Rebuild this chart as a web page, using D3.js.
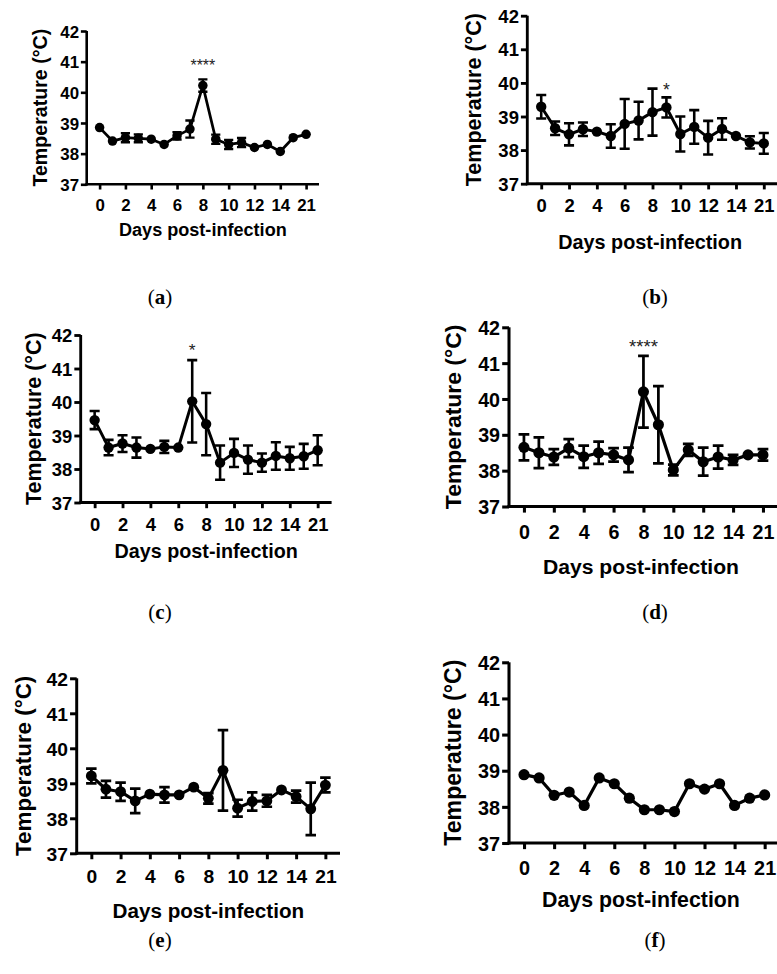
<!DOCTYPE html>
<html><head><meta charset="utf-8">
<script src="https://cdn.jsdelivr.net/npm/d3@7"></script>
<style>body{margin:0;background:#fff}svg{display:block}</style>
</head><body>
<svg id="chart" width="777" height="974"></svg>
<script>
// ---- data ----
const days = ["0","1","2","3","4","5","6","7","8","9","10","11","12","13","14","15","21"];
const tickDays = ["0","2","4","6","8","10","12","14","21"];
const yTicks = [37,38,39,40,41,42];
const yTitle = "Temperature (°C)";
const xTitle = "Days post-infection";

const meanA = [38.85,38.41,38.52,38.50,38.47,38.30,38.58,38.80,40.22,38.47,38.30,38.36,38.20,38.30,38.07,38.52,38.63];
const sdA   = [0,0,0.15,0.13,0,0,0.12,0.28,0.20,0.15,0.15,0.15,0,0,0,0,0];
const meanB = [39.29,38.65,38.47,38.62,38.55,38.42,38.78,38.88,39.13,39.27,38.48,38.69,38.37,38.63,38.42,38.23,38.20];
const sdB   = [0.35,0.20,0.33,0.20,0,0.35,0.74,0.56,0.70,0.30,0.52,0.50,0.50,0.32,0,0.18,0.31];
const meanC = [39.46,38.64,38.76,38.64,38.60,38.66,38.64,40.02,39.34,38.19,38.48,38.28,38.19,38.39,38.32,38.38,38.56];
const sdC   = [0.27,0.23,0.25,0.30,0,0.18,0,1.23,0.93,0.51,0.42,0.42,0.27,0.41,0.34,0.37,0.45];
const meanD = [38.65,38.50,38.38,38.63,38.39,38.50,38.44,38.30,40.20,39.28,38.02,38.58,38.25,38.38,38.30,38.44,38.44];
const sdD   = [0.36,0.43,0.22,0.25,0.31,0.31,0.19,0.34,1.00,1.08,0.15,0.17,0.39,0.32,0.14,0,0.16];
const meanE = [39.21,38.83,38.76,38.50,38.69,38.67,38.67,38.89,38.57,39.37,38.29,38.48,38.50,38.81,38.62,38.27,38.95];
const sdE   = [0.21,0.24,0.26,0.35,0,0.22,0,0,0.15,1.15,0.24,0.26,0.17,0,0.17,0.75,0.21];
const meanF = [38.89,38.80,38.32,38.41,38.04,38.80,38.64,38.24,37.92,37.92,37.87,38.64,38.49,38.64,38.04,38.24,38.33];
const sdF   = [0,0,0,0,0,0,0,0,0,0,0,0,0,0,0,0,0];

const sigA = {day:"8", label:"****", value:40.99};
const sigB = {day:"9", label:"*", value:39.90};
const sigC = {day:"7", label:"*", value:41.65};
const sigD = {day:"8", label:"****", value:41.57};

const captions = ["a","b","c","d","e","f"];

// ---- layout (positions / styles only) ----
const layout = [
  {left:86.7, top:31,    bottom:184.3, right:319,   tickOff:0.67, titleOff:1.47, ylabOff:1.52, capX:160, capY:297},
  {left:527.3,top:15.7,  bottom:183.7, right:777.7, tickOff:0.63, titleOff:1.73, ylabOff:1.60, capX:655, capY:297},
  {left:80.7, top:335,   bottom:502.5, right:331.6, tickOff:0.64, titleOff:1.43, ylabOff:1.43, capX:160, capY:612},
  {left:509,  top:327.3, bottom:506.5, right:777.9, tickOff:0.70, titleOff:1.66, ylabOff:1.56, capX:655, capY:612},
  {left:76.7, top:678.3, bottom:853.3, right:340,   tickOff:0.66, titleOff:1.63, ylabOff:1.53, capX:160, capY:940},
  {left:509,  top:662.3, bottom:843,   right:779.7, tickOff:0.70, titleOff:1.55, ylabOff:1.55, capX:655, capY:940}
];
const series = [[meanA,sdA,sigA],[meanB,sdB,sigB],[meanC,sdC,sigC],[meanD,sdD,sigD],[meanE,sdE,null],[meanF,sdF,null]];

const svg = d3.select("#chart");
const FONT = "'Liberation Sans', Arial, sans-serif";

series.forEach(([mean, sd, sig], i) => {
  const L = layout[i];
  const unit = (L.bottom - L.top) / 5;
  const g = svg.append("g");
  const x = d3.scalePoint().domain(days).range([L.left, L.right]).padding(1);
  const y = d3.scaleLinear().domain([37,42]).range([L.bottom, L.top]);
  const sw = unit * 0.085;
  const tickFs = unit * 0.55;
  const titleFs = unit * 0.59;
  const ylabFs = unit * 0.64;

  // y axis
  const yAx = g.append("g").attr("transform", `translate(${L.left},0)`)
    .call(d3.axisLeft(y).tickValues(yTicks).tickSize(unit*0.19).tickPadding(unit*0.06).tickFormat(d3.format("d")));
  yAx.select(".domain").attr("d", `M0,${L.top}V${L.bottom + sw/2}`).attr("stroke","#000").attr("stroke-width", sw);
  yAx.selectAll(".tick line").attr("stroke","#000").attr("stroke-width", sw);
  yAx.selectAll(".tick text").attr("font-family", FONT).attr("font-weight","bold").attr("font-size", tickFs).attr("fill","#000").attr("dy","0.36em");

  // x axis
  const xAx = g.append("g").attr("transform", `translate(0,${L.bottom})`)
    .call(d3.axisBottom(x).tickValues(tickDays).tickSize(unit*0.17).tickPadding(0));
  xAx.select(".domain").attr("d", `M${L.left - sw/2},0H${L.right}`).attr("stroke","#000").attr("stroke-width", sw);
  xAx.selectAll(".tick line").attr("stroke","#000").attr("stroke-width", sw);
  xAx.selectAll(".tick text").attr("font-family", FONT).attr("font-weight","bold").attr("font-size", tickFs).attr("fill","#000")
    .attr("y", unit * L.tickOff).attr("dy","0.36em");

  // titles
  g.append("text").attr("x", (L.left + Math.min(L.right, 777)) / 2 + (i%2 ? -2 : 0)).attr("y", L.bottom + unit*L.titleOff)
    .attr("dy","0.36em").attr("text-anchor","middle").attr("font-family", FONT).attr("font-weight","bold")
    .attr("font-size", titleFs).text(xTitle);
  g.append("text").attr("transform", `translate(${L.left - unit*L.ylabOff},${(L.top+L.bottom)/2}) rotate(-90)`)
    .attr("dy","0.36em").attr("text-anchor","middle").attr("font-family", FONT).attr("font-weight","bold")
    .attr("font-size", ylabFs).text(yTitle);

  const pts = days.map((d, k) => ({d, m: mean[k], s: sd[k]}));
  // error bars
  const cap = unit * 0.15;
  const eb = g.append("g").attr("stroke","#000").attr("stroke-width", sw*0.9).attr("fill","none");
  pts.filter(p => p.s > 0).forEach(p => {
    const cx = x(p.d), y1 = y(p.m + p.s), y2 = y(p.m - p.s);
    eb.append("path").attr("d", `M${cx},${y1}V${y2}M${cx-cap},${y1}H${cx+cap}M${cx-cap},${y2}H${cx+cap}`);
  });
  // line
  g.append("path").datum(pts).attr("fill","none").attr("stroke","#000").attr("stroke-width", sw*1.05)
    .attr("stroke-linejoin","round")
    .attr("d", d3.line().x(p => x(p.d)).y(p => y(p.m)));
  // dots
  g.selectAll("circle.dot").data(pts).join("circle").attr("class","dot")
    .attr("cx", p => x(p.d)).attr("cy", p => y(p.m)).attr("r", unit*0.155).attr("fill","#000");

  // significance
  if (sig) {
    g.append("text").attr("x", x(sig.day)).attr("y", y(sig.value)).attr("dy","0.55em")
      .attr("text-anchor","middle").attr("font-family", FONT).attr("font-size", unit*0.52)
      .attr("fill","#222").text(sig.label);
  }

  // caption
  const c = svg.append("text").attr("x", L.capX).attr("y", L.capY).attr("dy","0.35em").attr("text-anchor","middle")
    .attr("font-family","'Liberation Serif','DejaVu Serif',serif").attr("font-size", 21).attr("fill","#000");
  c.append("tspan").text("(");
  c.append("tspan").attr("font-weight","bold").text(captions[i]);
  c.append("tspan").text(")");
});
</script>
</body></html>
